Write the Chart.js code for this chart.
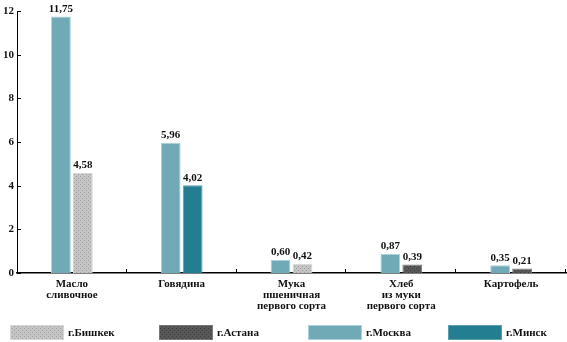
<!DOCTYPE html>
<html>
<head>
<meta charset="utf-8">
<script src="https://cdn.jsdelivr.net/npm/chart.js@4.4.0/dist/chart.umd.min.js"></script>
<style>
    html, body { margin: 0; padding: 0; background: #fff; }
    #contenedor { width: 567px; height: 342px; }
</style>
</head>
<body>
<div id="contenedor"><canvas id="grafica"></canvas></div>
<script type="text/javascript">

    // Productos (eje X)
    var productos = [["Масло", "сливочное"], "Говядина", ["Мука", "пшеничная", "первого сорта"],
                     ["Хлеб", "из муки", "первого сорта"], "Картофель"]
    // Ciudades, en el orden en que se dibujan las barras
    var ciudades = ["г.Москва", "г.Бишкек", "г.Астана", "г.Минск"]
    // Precios por ciudad (null = sin dato)
    var preciosMoscu = [11.75, 5.96, 0.60, 0.87, 0.35]
    var preciosBiskek = [4.58, null, 0.42, null, null]
    var preciosAstana = [null, null, null, 0.39, 0.21]
    var preciosMinsk = [null, 4.02, null, null, null]
    // Orden de la leyenda (indices de ciudades)
    var ordenLeyenda = [1, 2, 0, 3]
    // Eje Y
    var ejeYMin = 0
    var ejeYMax = 12
    var ejeYPaso = 2

    var fuente = "'Liberation Serif', 'Times New Roman', serif"
    var canvas = document.getElementById('grafica')
    var context = canvas.getContext('2d')

    // textura punteada para Bishkek / Astana
    function patron(fondo, punto) {
        var c = document.createElement('canvas')
        c.width = 4; c.height = 4
        var cx = c.getContext('2d')
        cx.fillStyle = fondo
        cx.fillRect(0, 0, 4, 4)
        cx.fillStyle = punto
        cx.fillRect(0, 0, 1, 1)
        cx.fillRect(2, 2, 1, 1)
        return context.createPattern(c, 'repeat')
    }

    var rellenos = [
        "rgb(113, 170, 183)",
        patron("rgb(196, 196, 196)", "rgb(160, 160, 160)"),
        patron("rgb(88, 88, 88)", "rgb(60, 60, 60)"),
        "rgb(36, 126, 145)"
    ]
    var bordes = ["rgb(170, 210, 218)", "rgb(215, 215, 215)", "rgb(120, 120, 120)", "rgb(90, 160, 175)"]

    var datos = {
        labels: productos,
        datasets: [preciosMoscu, preciosBiskek, preciosAstana, preciosMinsk].map(function (serie, i) {
            return {
                label: ciudades[i],
                data: serie,
                backgroundColor: rellenos[i],
                borderColor: bordes[i],
                borderWidth: 1,
                skipNull: true,
                categoryPercentage: 0.4,
                barPercentage: 0.9
            }
        })
    }

    // valores encima de cada barra
    var etiquetas = {
        id: 'etiquetas',
        afterDatasetsDraw: function (chart) {
            var ctx = chart.ctx
            ctx.save()
            ctx.font = "bold 11px " + fuente
            ctx.fillStyle = "#111"
            ctx.textAlign = "center"
            ctx.textBaseline = "bottom"
            chart.data.datasets.forEach(function (ds, i) {
                chart.getDatasetMeta(i).data.forEach(function (barra, j) {
                    if (ds.data[j] === null) return
                    ctx.fillText(ds.data[j].toFixed(2).replace('.', ','), barra.x, barra.y - 2)
                })
            })
            ctx.restore()
        }
    }

    // marcas hacia adentro en ambos ejes
    var marcas = {
        id: 'marcas',
        afterDraw: function (chart) {
            var ctx = chart.ctx
            var x = chart.scales.x, y = chart.scales.y
            ctx.save()
            ctx.strokeStyle = "#000"
            ctx.lineWidth = 1
            ctx.beginPath()
            for (var v = ejeYMin; v <= ejeYMax; v += ejeYPaso) {
                var py = Math.round(y.getPixelForValue(v)) + 0.5
                ctx.moveTo(x.left, py)
                ctx.lineTo(x.left + 4, py)
            }
            for (var k = 1; k <= productos.length; k++) {
                var px = Math.round(x.getPixelForValue(k - 0.5)) - 0.5
                ctx.moveTo(px, y.bottom)
                ctx.lineTo(px, y.bottom - 4)
            }
            ctx.stroke()
            ctx.restore()
        }
    }

    // leyenda en cuatro columnas
    var leyenda = {
        id: 'leyenda',
        afterDraw: function (chart) {
            var ctx = chart.ctx
            var columnas = [10, 159, 308, 448]
            ctx.save()
            ctx.font = "bold 11px " + fuente
            ctx.textBaseline = "middle"
            ordenLeyenda.forEach(function (idx, n) {
                var ds = chart.data.datasets[idx]
                ctx.fillStyle = ds.backgroundColor
                ctx.fillRect(columnas[n], 325, 54, 15)
                ctx.strokeStyle = ds.borderColor
                ctx.strokeRect(columnas[n] + 0.5, 325.5, 53, 14)
                ctx.fillStyle = "#111"
                ctx.fillText(ds.label, columnas[n] + 58, 333)
            })
            ctx.restore()
        }
    }

    Chart.defaults.font.family = fuente
    Chart.defaults.color = "#111"

    window.bar = new Chart(context, {
        type: "bar",
        data: datos,
        plugins: [etiquetas, marcas, leyenda],
        options: {
            responsive: true,
            maintainAspectRatio: false,
            animation: false,
            layout: { padding: { top: 11, left: 0, right: 1, bottom: 24 } },
            plugins: {
                legend: { display: false },
                tooltip: { enabled: false }
            },
            scales: {
                x: {
                    grid: { display: false, drawTicks: false },
                    border: { display: true, color: "#000", width: 1.5 },
                    ticks: {
                        font: { size: 11, weight: "bold", lineHeight: 1.0 },
                        padding: 6,
                        maxRotation: 0,
                        autoSkip: false
                    }
                },
                y: {
                    min: ejeYMin,
                    max: ejeYMax,
                    afterFit: function (escala) { escala.width = 17 },
                    grid: { display: false, drawTicks: false },
                    border: { display: true, color: "#000", width: 1 },
                    ticks: {
                        stepSize: ejeYPaso,
                        font: { size: 11, weight: "bold" },
                        padding: 3
                    }
                }
            }
        }
    })

</script>
</body>
</html>
